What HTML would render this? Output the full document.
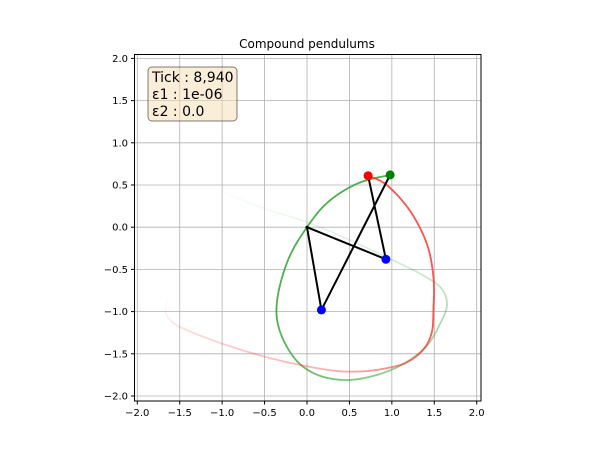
<!DOCTYPE html>
<html><head><meta charset="utf-8"><style>
body{margin:0;background:#fff;}
svg{display:block;font-family:"DejaVu Sans","Liberation Sans",sans-serif;}
</style></head><body>
<svg id="c" width="599" height="450">
<text x="307" y="48" font-size="12" text-anchor="middle">Compound pendulums</text>
<g id="grid"></g>
<g id="trails"></g>
<g id="arms"></g>
<rect x="134.5" y="54.5" width="346.5" height="346.5" fill="none" stroke="#000" stroke-width="1"/>
<g id="ticks"></g>
<g>
<rect x="148" y="67" width="89" height="54" rx="4" fill="#f5deb3" fill-opacity="0.5" stroke="#000" stroke-opacity="0.5"/>
<text x="152" y="82" font-size="14">Tick : 8,940</text>
<text x="152" y="99" font-size="14">ε1 : 1e-06</text>
<text x="152" y="116" font-size="14">ε2 : 0.0</text>
</g>
</svg>
<script>
const ticks=[-2,-1.5,-1,-0.5,0,0.5,1,1.5,2];
const tickLabels=["−2.0","−1.5","−1.0","−0.5","0.0","0.5","1.0","1.5","2.0"];
const greenTrailX=[0.98,0.6,0.25,0,-0.22,-0.35,-0.33,-0.15,0.1,0.42,0.75,1.1,1.4,1.57,1.65,1.58,1.35,1.01,0.5,0,-0.5,-0.9,-1.2];
const greenTrailY=[0.62,0.52,0.3,0,-0.38,-0.85,-1.2,-1.55,-1.74,-1.81,-1.77,-1.64,-1.42,-1.14,-0.92,-0.72,-0.56,-0.39,-0.15,0.06,0.22,0.38,0.52];
const redTrailX=[0.72,0.94,1.21,1.41,1.49,1.49,1.47,1.37,1.18,0.94,0.62,0.24,-0.4,-1.0,-1.46,-1.61,-1.67,-1.61];
const redTrailY=[0.61,0.5,0.2,-0.19,-0.59,-0.98,-1.25,-1.45,-1.6,-1.67,-1.71,-1.69,-1.56,-1.38,-1.2,-1.1,-0.98,-0.75];
const pendAX=[0,0.93,0.72], pendAY=[0,-0.38,0.61];
const pendBX=[0,0.17,0.98], pendBY=[0,-0.98,0.62];
const sx=v=>307+v*84.85, sy=v=>227.2-v*84.4;
const NS='http://www.w3.org/2000/svg';
function mk(t,a,p){const e=document.createElementNS(NS,t);for(const k in a)e.setAttribute(k,a[k]);p.appendChild(e);return e;}
const grid=document.getElementById('grid'),tk=document.getElementById('ticks');
ticks.forEach((v,i)=>{
 let g=mk('line',{x1:sx(v),x2:sx(v),y1:54.5,y2:401,stroke:'#b0b0b0','stroke-width':0.8},grid);
 
 
 let h=mk('line',{x1:134.5,x2:481,y1:sy(v),y2:sy(v),stroke:'#b0b0b0','stroke-width':0.8},grid);
 
 
 mk('line',{x1:sx(v),x2:sx(v),y1:401,y2:404.5,stroke:'#000'},tk);
 mk('line',{x1:131,x2:134.5,y1:sy(v),y2:sy(v),stroke:'#000'},tk);
 let tx=mk('text',{x:sx(v),y:416,'font-size':10,'text-anchor':'middle'},tk);tx.textContent=tickLabels[i];
 
 
 let ty=mk('text',{x:128,y:sy(v)+3.5,'font-size':10,'text-anchor':'end'},tk);ty.textContent=tickLabels[i];
 
 
});
function cr(xs,ys){const pts=[];const n=xs.length;
 for(let i=0;i<n-1;i++){const p0=[xs[Math.max(i-1,0)],ys[Math.max(i-1,0)]],p1=[xs[i],ys[i]],p2=[xs[i+1],ys[i+1]],p3=[xs[Math.min(i+2,n-1)],ys[Math.min(i+2,n-1)]];
  for(let s=0;s<10;s++){const t=s/10,t2=t*t,t3=t2*t;
   const f=(a,b,c,d)=>0.5*(2*b+(-a+c)*t+(2*a-5*b+4*c-d)*t2+(-a+3*b-3*c+d)*t3);
   pts.push([f(p0[0],p1[0],p2[0],p3[0]),f(p0[1],p1[1],p2[1],p3[1])]);}}
 pts.push([xs[n-1],ys[n-1]]);return pts;}
const tr=document.getElementById('trails');
function trail(xs,ys,col,solidFrac,name){const p=cr(xs,ys);const n=p.length;
 for(let i=n-2;i>=0;i--){const f=i/(n-1);const a=f<solidFrac?0.85:0.85*Math.pow(Math.max(0,1-(f-solidFrac)/(1-solidFrac)),1.3);
  let l=mk('line',{x1:sx(p[i][0]),y1:sy(p[i][1]),x2:sx(p[i+1][0]),y2:sy(p[i+1][1]),stroke:col,'stroke-width':1.8,'stroke-opacity':a,'stroke-linecap':'butt'},tr);
  
  }}
trail(greenTrailX,greenTrailY,'#2ca02c',0.25,'green-trail');
trail(redTrailX,redTrailY,'#ff3030',0.35,'red-trail');
const arms=document.getElementById('arms');
function pend(xs,ys,c2,name){
 let pl=mk('polyline',{points:xs.map((x,i)=>sx(x)+','+sy(ys[i])).join(' '),fill:'none',stroke:'#000','stroke-width':2},arms);
 
 
 mk('circle',{cx:sx(xs[0]),cy:sy(ys[0]),r:1.5,fill:'#000'},arms);
 let b1=mk('circle',{cx:sx(xs[1]),cy:sy(ys[1]),r:4.5,fill:'#0000ff'},arms);
 
 
 let b2=mk('circle',{cx:sx(xs[2]),cy:sy(ys[2]),r:4.5,fill:c2},arms);
 
 }
pend(pendAX,pendAY,'#ff0000','pendulum-red');
pend(pendBX,pendBY,'#008000','pendulum-green');
</script>
</body></html>
